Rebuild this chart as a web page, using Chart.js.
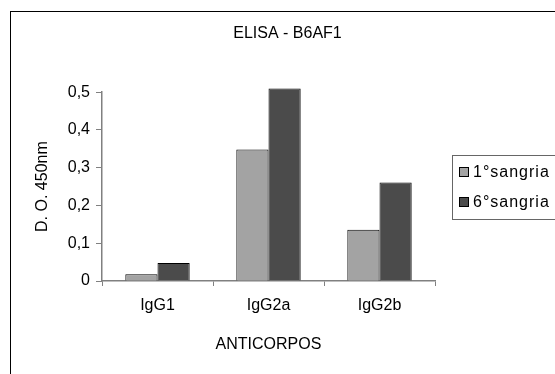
<!DOCTYPE html>
<html>
<head>
<meta charset="utf-8">
<script src="https://cdn.jsdelivr.net/npm/chart.js@4/dist/chart.umd.min.js"></script>
<style>
  html, body { margin: 0; padding: 0; background: #fff; overflow: hidden; }
  #wrap { position: relative; width: 555px; height: 374px; }
  #frame { position: absolute; left: 10px; top: 11px; width: 600px; height: 420px; border: 1.5px solid #000; box-sizing: border-box; }
  #myChart { position: absolute; left: 0; top: 0; }
</style>
</head>
<body>
<div id="wrap">
  <div id="frame"></div>
  <canvas id="myChart" width="555" height="374"></canvas>
</div>
<script>
var categorias = ['IgG1', 'IgG2a', 'IgG2b'];
var sangria1 = [0.018, 0.348, 0.136];
var sangria6 = [0.048, 0.51, 0.261];
var series = ['1°sangria', '6°sangria'];
var colores = ['#a3a3a3', '#4b4b4b'];
var ticksY = [0, 0.1, 0.2, 0.3, 0.4, 0.5];

var fuente = 'Arial, "Liberation Sans", sans-serif';

// leyenda con caja, como la del original
var leyenda = {
    id: 'leyenda',
    afterDraw: function (chart) {
        var ctx = chart.ctx;
        ctx.save();
        ctx.strokeStyle = '#666';
        ctx.lineWidth = 1;
        ctx.strokeRect(452.5, 155.5, 200, 64);
        ctx.font = '16px ' + fuente;
        ctx.textBaseline = 'middle';
        if ('letterSpacing' in ctx) ctx.letterSpacing = '1px';
        chart.data.datasets.forEach(function (ds, i) {
            var y = 172 + i * 30;
            ctx.fillStyle = ds.backgroundColor;
            ctx.fillRect(459.5, y - 4.5, 9, 9);
            ctx.strokeStyle = '#000';
            ctx.strokeRect(459.5, y - 4.5, 9, 9);
            ctx.fillStyle = '#000';
            ctx.fillText(ds.label, 473, y + 1);
        });
        if ('letterSpacing' in ctx) ctx.letterSpacing = '0px';
        ctx.restore();
    }
};

var ctx = document.getElementById('myChart');
var myChart = new Chart(ctx, {
    type: 'bar',
    data: {
        labels: categorias,
        datasets: [{
            label: series[0],
            data: sangria1,
            backgroundColor: colores[0],
            borderColor: '#000',
            borderWidth: 1,
            clip: false
        }, {
            label: series[1],
            data: sangria6,
            backgroundColor: colores[1],
            borderColor: '#000',
            borderWidth: 1,
            clip: false
        }]
    },
    options: {
        responsive: false,
        animation: false,
        categoryPercentage: 0.58,
        barPercentage: 1,
        layout: { padding: { left: 30, right: 10, top: 16, bottom: 0 } },
        plugins: {
            legend: { display: false },
            tooltip: { enabled: false },
            title: {
                display: true,
                text: 'ELISA - B6AF1',
                color: '#000',
                font: { family: fuente, size: 16, weight: 'normal' },
                padding: { top: 8, bottom: 49 }
            }
        },
        scales: {
            x: {
                afterFit: function (s) { s.height = 93; },
                grid: { offset: true, drawOnChartArea: false, drawTicks: true, tickLength: 5, color: '#808080' },
                border: { color: '#808080', width: 1.5 },
                ticks: { color: '#000', font: { family: fuente, size: 16 }, padding: 10 },
                title: {
                    display: true,
                    text: 'ANTICORPOS',
                    color: '#000',
                    font: { family: fuente, size: 16 },
                    padding: { top: 0, bottom: 20 }
                }
            },
            y: {
                min: 0,
                max: 0.5,
                afterFit: function (s) { s.width = 72; },
                afterBuildTicks: function (s) {
                    s.ticks = ticksY.map(function (v) { return { value: v }; });
                },
                grid: { drawOnChartArea: false, drawTicks: true, tickLength: 6, color: '#808080' },
                border: { color: '#808080', width: 1.5 },
                ticks: {
                    color: '#000',
                    font: { family: fuente, size: 16 },
                    padding: 6,
                    callback: function (v) { return v === 0 ? '0' : v.toFixed(1).replace('.', ','); }
                },
                title: {
                    display: true,
                    text: 'D. O. 450nm',
                    color: '#000',
                    font: { family: fuente, size: 16 },
                    padding: { top: 3, bottom: 0 }
                }
            },
            // eje vacío a la derecha: reserva el sitio de la leyenda
            espacio: {
                type: 'linear',
                position: 'right',
                display: true,
                afterFit: function (s) { s.width = 110; },
                grid: { display: false },
                border: { display: false },
                ticks: { display: false }
            }
        }
    },
    plugins: [leyenda]
});
</script>
</body>
</html>
